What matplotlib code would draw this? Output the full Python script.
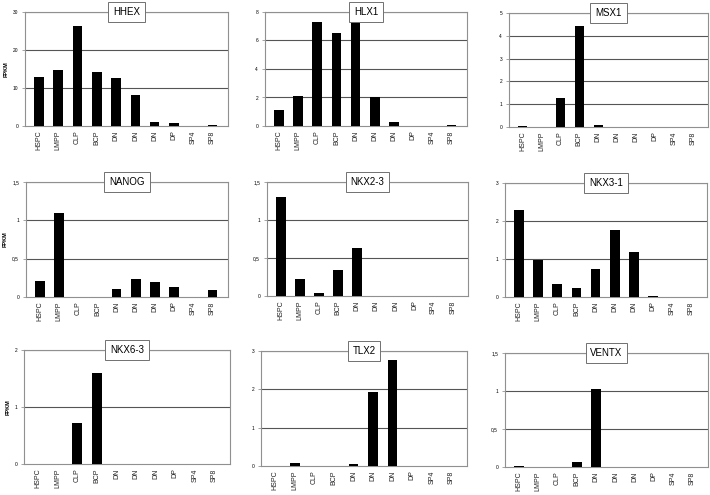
import matplotlib
matplotlib.use('Agg')
import matplotlib.pyplot as plt
from matplotlib.ticker import FuncFormatter

plt.rcParams['font.family'] = ['Liberation Sans', 'DejaVu Sans']

cells = ['HSPC', 'LMPP', 'CLP', 'BCP', 'DN', 'DN', 'DN', 'DP', 'SP4', 'SP8']

genes = ['HHEX', 'HLX1', 'MSX1', 'NANOG', 'NKX2-3', 'NKX3-1', 'NKX6-3', 'TLX2', 'VENTX']

hhex = [13.0, 14.8, 26.3, 14.2, 12.5, 8.1, 1.0, 0.8, 0.0, 0.2]
hlx1 = [1.15, 2.1, 7.3, 6.5, 7.4, 2.0, 0.25, 0.0, 0.0, 0.05]
msx1 = [0.03, 0.0, 1.27, 4.42, 0.1, 0.0, 0.0, 0.0, 0.0, 0.0]
nanog = [0.21, 1.1, 0.0, 0.0, 0.11, 0.23, 0.19, 0.13, 0.0, 0.09]
nkx2_3 = [1.3, 0.23, 0.04, 0.34, 0.63, 0.0, 0.0, 0.0, 0.0, 0.0]
nkx3_1 = [2.3, 0.98, 0.35, 0.25, 0.74, 1.76, 1.18, 0.03, 0.0, 0.0]
nkx6_3 = [0.0, 0.0, 0.72, 1.6, 0.0, 0.0, 0.0, 0.0, 0.0, 0.0]
tlx2 = [0.0, 0.09, 0.0, 0.0, 0.06, 1.93, 2.77, 0.0, 0.0, 0.0]
ventx = [0.015, 0.0, 0.0, 0.07, 1.03, 0.0, 0.0, 0.0, 0.0, 0.0]

values = [hhex, hlx1, msx1, nanog, nkx2_3, nkx3_1, nkx6_3, tlx2, ventx]
y_max = [30, 8, 5, 1.5, 1.5, 3, 2, 3, 1.5]
y_step = [10, 2, 1, 0.5, 0.5, 1, 1, 1, 0.5]

# axes boxes in pixels: left, top, right, bottom
W, H = 710, 495
boxes = [(25, 12, 228, 126), (265, 12, 467, 126), (509, 13, 708, 127),
         (26, 182, 228, 297), (267, 182, 468, 296), (505, 183, 707, 297),
         (24, 350, 230, 464), (261, 351, 467, 466), (505, 353, 708, 467)]

comma = FuncFormatter(lambda v, p: ('%g' % v).replace('.', ','))

fig = plt.figure(figsize=(W / 100, H / 100), dpi=100)

for i, gene in enumerate(genes):
    l, t, r, b = boxes[i]
    ax = fig.add_axes([l / W, 1 - b / H, (r - l) / W, (b - t) / H])
    x = range(len(cells))
    ax.bar(x, values[i], width=0.5, color='black', zorder=3)
    ax.set_xlim(-0.72, 9.8)
    ax.set_ylim(0, y_max[i])
    ticks = [k * y_step[i] for k in range(int(round(y_max[i] / y_step[i])) + 1)]
    ax.set_yticks(ticks)
    ax.yaxis.set_major_formatter(comma)
    for tk in ticks[1:]:
        ax.axhline(tk, color='#555555', lw=0.8, zorder=1)
    ax.set_xticks(list(x))
    ax.set_xticklabels(cells, rotation=90, fontsize=5, color='#222222')
    ax.tick_params(axis='y', labelsize=3.5, length=2, width=0.5, pad=3, color='#808080')
    ax.tick_params(axis='x', length=0, pad=3)
    for s in ax.spines.values():
        s.set_color('#909090')
        s.set_linewidth(0.8)
    if i % 3 == 0:
        ax.set_ylabel('FPKM', fontsize=4, fontweight='bold', labelpad=3)
    ax.text(0.5, 1.0, gene, transform=ax.transAxes, ha='center', va='center',
            fontsize=7, zorder=5,
            bbox=dict(boxstyle='square,pad=0.5', fc='white', ec='#707070', lw=0.7))

fig.savefig('out.png', dpi=100)
